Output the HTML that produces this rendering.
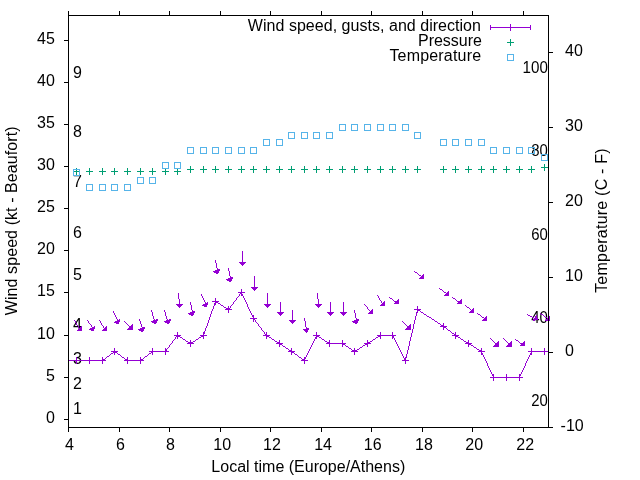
<!DOCTYPE html>
<html><head><meta charset="utf-8"><title>Wind</title>
<style>html,body{margin:0;padding:0;background:#fff;}body{width:640px;height:480px;overflow:hidden;}svg{display:block;will-change:transform;}text{font-family:"Liberation Sans",sans-serif;font-size:16px;fill:#000;white-space:pre;}</style>
</head><body>
<svg width="640" height="480" viewBox="0 0 640 480">
<rect x="0" y="0" width="640" height="480" fill="#ffffff"/>
<g>
<text x="54.8" y="423" text-anchor="end">0</text>
<text x="54.8" y="381" text-anchor="end">5</text>
<text x="54.8" y="339" text-anchor="end">10</text>
<text x="54.8" y="296" text-anchor="end">15</text>
<text x="54.8" y="254" text-anchor="end">20</text>
<text x="54.8" y="212" text-anchor="end">25</text>
<text x="54.8" y="170" text-anchor="end">30</text>
<text x="54.8" y="128" text-anchor="end">35</text>
<text x="54.8" y="86" text-anchor="end">40</text>
<text x="54.8" y="44" text-anchor="end">45</text>
<text x="560.6" y="431" xml:space="preserve">-10</text>
<text x="560.6" y="356" xml:space="preserve"> 0</text>
<text x="560.6" y="281" xml:space="preserve"> 10</text>
<text x="560.6" y="206" xml:space="preserve"> 20</text>
<text x="560.6" y="131" xml:space="preserve"> 30</text>
<text x="560.6" y="56" xml:space="preserve"> 40</text>
<text x="67.30" y="450" text-anchor="middle" xml:space="preserve"> 4</text>
<text x="118.33" y="450" text-anchor="middle" xml:space="preserve"> 6</text>
<text x="168.35" y="450" text-anchor="middle" xml:space="preserve"> 8</text>
<text x="219.98" y="450" text-anchor="middle" xml:space="preserve"> 10</text>
<text x="269.71" y="450" text-anchor="middle" xml:space="preserve"> 12</text>
<text x="320.83" y="450" text-anchor="middle" xml:space="preserve"> 14</text>
<text x="370.46" y="450" text-anchor="middle" xml:space="preserve"> 16</text>
<text x="421.68" y="450" text-anchor="middle" xml:space="preserve"> 18</text>
<text x="472.01" y="450" text-anchor="middle" xml:space="preserve"> 20</text>
<text x="522.94" y="450" text-anchor="middle" xml:space="preserve"> 22</text>
</g>
<text transform="translate(17.3,315.2) rotate(-90)" textLength="188.75" lengthAdjust="spacing">Wind speed (kt - Beaufort)</text>
<text transform="translate(606.5,292.85) rotate(-90)" textLength="144.5" lengthAdjust="spacing">Temperature (C - F)</text>
<text x="211.36" y="472">Local time (Europe/Athens)</text>
<text x="72.9" y="414">1</text>
<text x="72.9" y="389">2</text>
<text x="72.9" y="364">3</text>
<text x="72.9" y="330">4</text>
<text x="72.9" y="280">5</text>
<text x="72.9" y="238">6</text>
<text x="72.9" y="187">7</text>
<text x="72.9" y="137">8</text>
<text x="72.9" y="78">9</text>
<text x="531.30" y="406" textLength="16.6" lengthAdjust="spacingAndGlyphs">20</text>
<text x="531.30" y="323" textLength="16.6" lengthAdjust="spacingAndGlyphs">40</text>
<text x="531.30" y="240" textLength="16.6" lengthAdjust="spacingAndGlyphs">60</text>
<text x="531.30" y="156" textLength="16.6" lengthAdjust="spacingAndGlyphs">80</text>
<text x="522.60" y="73" textLength="25.3" lengthAdjust="spacingAndGlyphs">100</text>
<text x="247.86" y="31" textLength="233.1" lengthAdjust="spacing">Wind speed, gusts, and direction</text>
<text x="417.97" y="46">Pressure</text>
<text x="389.4" y="61" textLength="91.7" lengthAdjust="spacing">Temperature</text>
<g stroke="#9400d3" stroke-width="1" fill="none" shape-rendering="crispEdges">
<path d="M490 27.5H531M490.5 25V30M530.5 25V30M510.5 24V31"/>
</g>
<g stroke="#009e73" stroke-width="1" fill="none" shape-rendering="crispEdges">
<path d="M507 42.5H514M510.5 39V46"/>
</g>
<g stroke="#56b4e9" stroke-width="1" fill="none" shape-rendering="crispEdges">
<rect x="507.5" y="54.5" width="6" height="6"/>
</g>
<path fill="#9400d3" shape-rendering="crispEdges" d="M241 289h1v1h-1zM241 290h1v1h-1zM241 291h1v1h-1zM238 292h7v1h-7zM240 293h2v1h-2zM239 294h1v1h-1zM241 294h2v1h-2zM239 295h1v1h-1zM241 295h2v1h-2zM238 296h1v1h-1zM243 296h1v1h-1zM237 297h1v1h-1zM243 297h1v1h-1zM215 298h1v1h-1zM236 298h1v1h-1zM244 298h1v1h-1zM215 299h1v1h-1zM236 299h1v1h-1zM244 299h1v1h-1zM215 300h1v1h-1zM235 300h1v1h-1zM245 300h1v1h-1zM212 301h7v1h-7zM234 301h1v1h-1zM245 301h1v1h-1zM215 302h3v1h-3zM233 302h1v1h-1zM246 302h1v1h-1zM214 303h2v1h-2zM218 303h2v1h-2zM233 303h1v1h-1zM246 303h1v1h-1zM214 304h2v1h-2zM220 304h1v1h-1zM232 304h1v1h-1zM247 304h1v1h-1zM214 305h1v1h-1zM221 305h2v1h-2zM231 305h1v1h-1zM247 305h1v1h-1zM213 306h1v1h-1zM223 306h1v1h-1zM228 306h1v1h-1zM230 306h1v1h-1zM247 306h1v1h-1zM417 306h1v1h-1zM213 307h1v1h-1zM224 307h2v1h-2zM228 307h1v1h-1zM230 307h1v1h-1zM248 307h1v1h-1zM417 307h1v1h-1zM213 308h1v1h-1zM226 308h4v1h-4zM248 308h1v1h-1zM417 308h1v1h-1zM212 309h1v1h-1zM225 309h7v1h-7zM249 309h1v1h-1zM414 309h7v1h-7zM212 310h1v1h-1zM228 310h1v1h-1zM249 310h1v1h-1zM417 310h3v1h-3zM211 311h1v1h-1zM228 311h1v1h-1zM250 311h1v1h-1zM417 311h1v1h-1zM420 311h1v1h-1zM211 312h1v1h-1zM228 312h1v1h-1zM250 312h1v1h-1zM416 312h2v1h-2zM421 312h2v1h-2zM211 313h1v1h-1zM251 313h1v1h-1zM416 313h1v1h-1zM423 313h1v1h-1zM210 314h1v1h-1zM251 314h1v1h-1zM416 314h1v1h-1zM424 314h2v1h-2zM210 315h1v1h-1zM252 315h2v1h-2zM416 315h1v1h-1zM426 315h1v1h-1zM210 316h1v1h-1zM252 316h2v1h-2zM415 316h1v1h-1zM427 316h2v1h-2zM209 317h1v1h-1zM253 317h1v1h-1zM415 317h1v1h-1zM429 317h2v1h-2zM209 318h1v1h-1zM250 318h7v1h-7zM415 318h1v1h-1zM431 318h1v1h-1zM209 319h1v1h-1zM253 319h2v1h-2zM415 319h1v1h-1zM432 319h2v1h-2zM208 320h1v1h-1zM253 320h1v1h-1zM255 320h1v1h-1zM414 320h1v1h-1zM434 320h1v1h-1zM208 321h1v1h-1zM253 321h1v1h-1zM255 321h1v1h-1zM414 321h1v1h-1zM435 321h2v1h-2zM208 322h1v1h-1zM256 322h1v1h-1zM414 322h1v1h-1zM437 322h1v1h-1zM207 323h1v1h-1zM257 323h1v1h-1zM414 323h1v1h-1zM438 323h2v1h-2zM443 323h1v1h-1zM207 324h1v1h-1zM258 324h1v1h-1zM413 324h1v1h-1zM440 324h1v1h-1zM443 324h1v1h-1zM207 325h1v1h-1zM258 325h1v1h-1zM413 325h1v1h-1zM441 325h3v1h-3zM206 326h1v1h-1zM259 326h1v1h-1zM413 326h1v1h-1zM440 326h7v1h-7zM206 327h1v1h-1zM260 327h1v1h-1zM413 327h1v1h-1zM443 327h3v1h-3zM205 328h1v1h-1zM261 328h1v1h-1zM413 328h1v1h-1zM443 328h1v1h-1zM446 328h1v1h-1zM205 329h1v1h-1zM261 329h1v1h-1zM412 329h1v1h-1zM443 329h1v1h-1zM447 329h1v1h-1zM205 330h1v1h-1zM262 330h1v1h-1zM412 330h1v1h-1zM448 330h2v1h-2zM204 331h1v1h-1zM263 331h1v1h-1zM412 331h1v1h-1zM450 331h1v1h-1zM177 332h1v1h-1zM203 332h2v1h-2zM264 332h1v1h-1zM266 332h1v1h-1zM316 332h1v1h-1zM380 332h1v1h-1zM392 332h1v1h-1zM412 332h1v1h-1zM451 332h1v1h-1zM455 332h1v1h-1zM177 333h1v1h-1zM203 333h2v1h-2zM264 333h1v1h-1zM266 333h1v1h-1zM316 333h1v1h-1zM380 333h1v1h-1zM392 333h1v1h-1zM411 333h1v1h-1zM452 333h2v1h-2zM455 333h1v1h-1zM177 334h1v1h-1zM203 334h1v1h-1zM265 334h2v1h-2zM316 334h1v1h-1zM380 334h1v1h-1zM392 334h1v1h-1zM411 334h1v1h-1zM454 334h2v1h-2zM174 335h7v1h-7zM200 335h7v1h-7zM263 335h7v1h-7zM313 335h7v1h-7zM377 335h19v1h-19zM411 335h1v1h-1zM452 335h7v1h-7zM176 336h4v1h-4zM201 336h3v1h-3zM266 336h3v1h-3zM316 336h3v1h-3zM378 336h3v1h-3zM392 336h2v1h-2zM411 336h1v1h-1zM455 336h3v1h-3zM175 337h1v1h-1zM177 337h1v1h-1zM180 337h2v1h-2zM199 337h2v1h-2zM203 337h1v1h-1zM266 337h1v1h-1zM269 337h2v1h-2zM315 337h2v1h-2zM319 337h2v1h-2zM376 337h2v1h-2zM380 337h1v1h-1zM392 337h2v1h-2zM410 337h1v1h-1zM455 337h1v1h-1zM458 337h2v1h-2zM175 338h1v1h-1zM177 338h1v1h-1zM182 338h1v1h-1zM198 338h1v1h-1zM203 338h1v1h-1zM266 338h1v1h-1zM271 338h1v1h-1zM315 338h2v1h-2zM321 338h1v1h-1zM375 338h1v1h-1zM380 338h1v1h-1zM392 338h1v1h-1zM394 338h1v1h-1zM410 338h1v1h-1zM455 338h1v1h-1zM460 338h1v1h-1zM174 339h1v1h-1zM183 339h2v1h-2zM196 339h2v1h-2zM272 339h2v1h-2zM314 339h1v1h-1zM322 339h2v1h-2zM373 339h2v1h-2zM394 339h1v1h-1zM410 339h1v1h-1zM461 339h2v1h-2zM173 340h1v1h-1zM185 340h1v1h-1zM190 340h1v1h-1zM195 340h1v1h-1zM274 340h1v1h-1zM279 340h1v1h-1zM314 340h1v1h-1zM324 340h1v1h-1zM329 340h1v1h-1zM342 340h1v1h-1zM367 340h1v1h-1zM372 340h1v1h-1zM395 340h1v1h-1zM410 340h1v1h-1zM463 340h1v1h-1zM468 340h1v1h-1zM172 341h1v1h-1zM186 341h2v1h-2zM190 341h1v1h-1zM193 341h2v1h-2zM275 341h2v1h-2zM279 341h1v1h-1zM313 341h1v1h-1zM325 341h2v1h-2zM329 341h1v1h-1zM342 341h1v1h-1zM367 341h1v1h-1zM370 341h2v1h-2zM395 341h1v1h-1zM409 341h1v1h-1zM464 341h2v1h-2zM468 341h1v1h-1zM172 342h1v1h-1zM188 342h5v1h-5zM277 342h3v1h-3zM313 342h1v1h-1zM327 342h3v1h-3zM342 342h1v1h-1zM367 342h3v1h-3zM396 342h1v1h-1zM409 342h1v1h-1zM466 342h3v1h-3zM171 343h1v1h-1zM187 343h7v1h-7zM276 343h7v1h-7zM312 343h1v1h-1zM326 343h20v1h-20zM364 343h7v1h-7zM396 343h1v1h-1zM409 343h1v1h-1zM465 343h7v1h-7zM170 344h1v1h-1zM190 344h1v1h-1zM279 344h3v1h-3zM312 344h1v1h-1zM329 344h1v1h-1zM342 344h3v1h-3zM365 344h3v1h-3zM397 344h1v1h-1zM409 344h1v1h-1zM468 344h3v1h-3zM169 345h1v1h-1zM190 345h1v1h-1zM279 345h1v1h-1zM282 345h1v1h-1zM311 345h1v1h-1zM329 345h1v1h-1zM342 345h1v1h-1zM345 345h1v1h-1zM363 345h2v1h-2zM367 345h1v1h-1zM397 345h1v1h-1zM409 345h1v1h-1zM468 345h1v1h-1zM471 345h2v1h-2zM169 346h1v1h-1zM190 346h1v1h-1zM279 346h1v1h-1zM283 346h2v1h-2zM311 346h1v1h-1zM329 346h1v1h-1zM342 346h1v1h-1zM346 346h2v1h-2zM362 346h1v1h-1zM367 346h1v1h-1zM398 346h1v1h-1zM408 346h1v1h-1zM468 346h1v1h-1zM473 346h1v1h-1zM168 347h1v1h-1zM285 347h1v1h-1zM310 347h1v1h-1zM348 347h1v1h-1zM360 347h2v1h-2zM398 347h1v1h-1zM408 347h1v1h-1zM474 347h2v1h-2zM114 348h1v1h-1zM152 348h1v1h-1zM165 348h1v1h-1zM167 348h1v1h-1zM286 348h2v1h-2zM291 348h1v1h-1zM310 348h1v1h-1zM349 348h2v1h-2zM354 348h1v1h-1zM359 348h1v1h-1zM399 348h1v1h-1zM408 348h1v1h-1zM476 348h1v1h-1zM481 348h1v1h-1zM531 348h1v1h-1zM544 348h1v1h-1zM114 349h1v1h-1zM152 349h1v1h-1zM165 349h2v1h-2zM288 349h1v1h-1zM291 349h1v1h-1zM309 349h1v1h-1zM351 349h1v1h-1zM354 349h1v1h-1zM357 349h2v1h-2zM399 349h1v1h-1zM408 349h1v1h-1zM477 349h2v1h-2zM481 349h1v1h-1zM531 349h1v1h-1zM544 349h1v1h-1zM114 350h1v1h-1zM152 350h1v1h-1zM165 350h2v1h-2zM289 350h3v1h-3zM309 350h1v1h-1zM352 350h5v1h-5zM400 350h1v1h-1zM407 350h1v1h-1zM479 350h3v1h-3zM531 350h1v1h-1zM544 350h1v1h-1zM111 351h7v1h-7zM149 351h20v1h-20zM288 351h7v1h-7zM308 351h1v1h-1zM351 351h7v1h-7zM400 351h1v1h-1zM407 351h1v1h-1zM478 351h7v1h-7zM528 351h21v1h-21zM113 352h4v1h-4zM151 352h2v1h-2zM165 352h1v1h-1zM291 352h3v1h-3zM308 352h1v1h-1zM354 352h1v1h-1zM401 352h1v1h-1zM407 352h1v1h-1zM481 352h1v1h-1zM531 352h1v1h-1zM544 352h1v1h-1zM111 353h2v1h-2zM114 353h1v1h-1zM117 353h1v1h-1zM149 353h2v1h-2zM152 353h1v1h-1zM165 353h1v1h-1zM291 353h1v1h-1zM294 353h1v1h-1zM307 353h1v1h-1zM354 353h1v1h-1zM401 353h1v1h-1zM407 353h1v1h-1zM481 353h2v1h-2zM530 353h2v1h-2zM544 353h1v1h-1zM110 354h1v1h-1zM114 354h1v1h-1zM118 354h2v1h-2zM148 354h1v1h-1zM152 354h1v1h-1zM165 354h1v1h-1zM291 354h1v1h-1zM295 354h2v1h-2zM307 354h1v1h-1zM354 354h1v1h-1zM402 354h1v1h-1zM406 354h1v1h-1zM481 354h2v1h-2zM530 354h2v1h-2zM544 354h1v1h-1zM109 355h1v1h-1zM120 355h1v1h-1zM147 355h1v1h-1zM297 355h1v1h-1zM306 355h1v1h-1zM402 355h1v1h-1zM406 355h1v1h-1zM483 355h1v1h-1zM529 355h1v1h-1zM107 356h2v1h-2zM121 356h1v1h-1zM145 356h2v1h-2zM298 356h1v1h-1zM306 356h1v1h-1zM403 356h1v1h-1zM406 356h1v1h-1zM483 356h1v1h-1zM529 356h1v1h-1zM76 357h1v1h-1zM89 357h1v1h-1zM102 357h1v1h-1zM106 357h1v1h-1zM122 357h2v1h-2zM127 357h1v1h-1zM140 357h1v1h-1zM144 357h1v1h-1zM299 357h2v1h-2zM304 357h2v1h-2zM403 357h1v1h-1zM405 357h2v1h-2zM484 357h1v1h-1zM528 357h1v1h-1zM76 358h1v1h-1zM89 358h1v1h-1zM102 358h1v1h-1zM105 358h1v1h-1zM124 358h1v1h-1zM127 358h1v1h-1zM140 358h1v1h-1zM143 358h1v1h-1zM301 358h1v1h-1zM304 358h2v1h-2zM404 358h2v1h-2zM484 358h1v1h-1zM528 358h1v1h-1zM76 359h1v1h-1zM89 359h1v1h-1zM102 359h3v1h-3zM125 359h3v1h-3zM140 359h3v1h-3zM302 359h3v1h-3zM404 359h2v1h-2zM485 359h1v1h-1zM527 359h1v1h-1zM68 360h38v1h-38zM124 360h20v1h-20zM301 360h7v1h-7zM402 360h7v1h-7zM485 360h1v1h-1zM527 360h1v1h-1zM76 361h1v1h-1zM89 361h1v1h-1zM102 361h1v1h-1zM127 361h1v1h-1zM140 361h1v1h-1zM304 361h1v1h-1zM405 361h1v1h-1zM486 361h1v1h-1zM526 361h1v1h-1zM76 362h1v1h-1zM89 362h1v1h-1zM102 362h1v1h-1zM127 362h1v1h-1zM140 362h1v1h-1zM304 362h1v1h-1zM405 362h1v1h-1zM486 362h1v1h-1zM526 362h1v1h-1zM76 363h1v1h-1zM89 363h1v1h-1zM102 363h1v1h-1zM127 363h1v1h-1zM140 363h1v1h-1zM304 363h1v1h-1zM405 363h1v1h-1zM487 363h1v1h-1zM525 363h1v1h-1zM487 364h1v1h-1zM525 364h1v1h-1zM487 365h1v1h-1zM525 365h1v1h-1zM488 366h1v1h-1zM524 366h1v1h-1zM488 367h1v1h-1zM524 367h1v1h-1zM489 368h1v1h-1zM523 368h1v1h-1zM489 369h1v1h-1zM523 369h1v1h-1zM490 370h1v1h-1zM522 370h1v1h-1zM490 371h1v1h-1zM522 371h1v1h-1zM491 372h1v1h-1zM521 372h1v1h-1zM491 373h1v1h-1zM521 373h1v1h-1zM492 374h2v1h-2zM506 374h1v1h-1zM519 374h2v1h-2zM492 375h2v1h-2zM506 375h1v1h-1zM519 375h2v1h-2zM493 376h1v1h-1zM506 376h1v1h-1zM519 376h1v1h-1zM490 377h33v1h-33zM493 378h1v1h-1zM506 378h1v1h-1zM519 378h1v1h-1zM493 379h1v1h-1zM506 379h1v1h-1zM519 379h1v1h-1zM493 380h1v1h-1zM506 380h1v1h-1zM519 380h1v1h-1z"/>
<path fill="#9400d3" shape-rendering="crispEdges" d="M242 251h1v1h-1zM242 252h1v1h-1zM242 253h1v1h-1zM242 254h1v1h-1zM242 255h1v1h-1zM242 256h1v1h-1zM242 257h1v1h-1zM242 258h1v1h-1zM242 259h1v1h-1zM215 260h1v1h-1zM242 260h1v1h-1zM215 261h1v1h-1zM242 261h1v1h-1zM215 262h1v1h-1zM239 262h7v1h-7zM216 263h1v1h-1zM240 263h5v1h-5zM216 264h1v1h-1zM241 264h3v1h-3zM216 265h1v1h-1zM242 265h1v1h-1zM216 266h1v1h-1zM216 267h1v1h-1zM217 268h1v1h-1zM228 268h1v1h-1zM217 269h3v1h-3zM228 269h1v1h-1zM215 270h5v1h-5zM228 270h1v1h-1zM213 271h6v1h-6zM229 271h1v1h-1zM414 271h1v1h-1zM214 272h5v1h-5zM229 272h1v1h-1zM415 272h2v1h-2zM216 273h2v1h-2zM229 273h1v1h-1zM417 273h1v1h-1zM229 274h1v1h-1zM418 274h1v1h-1zM423 274h1v1h-1zM229 275h1v1h-1zM419 275h2v1h-2zM422 275h2v1h-2zM230 276h1v1h-1zM254 276h1v1h-1zM421 276h3v1h-3zM230 277h3v1h-3zM254 277h1v1h-1zM420 277h4v1h-4zM228 278h5v1h-5zM254 278h1v1h-1zM419 278h5v1h-5zM226 279h6v1h-6zM254 279h1v1h-1zM227 280h5v1h-5zM254 280h1v1h-1zM229 281h2v1h-2zM254 281h1v1h-1zM254 282h1v1h-1zM254 283h1v1h-1zM254 284h1v1h-1zM254 285h1v1h-1zM254 286h1v1h-1zM251 287h7v1h-7zM252 288h5v1h-5zM439 288h1v1h-1zM253 289h3v1h-3zM440 289h2v1h-2zM254 290h1v1h-1zM442 290h1v1h-1zM443 291h1v1h-1zM448 291h1v1h-1zM444 292h2v1h-2zM447 292h2v1h-2zM178 293h1v1h-1zM267 293h1v1h-1zM317 293h1v1h-1zM446 293h3v1h-3zM178 294h1v1h-1zM201 294h1v1h-1zM267 294h1v1h-1zM317 294h1v1h-1zM445 294h4v1h-4zM178 295h1v1h-1zM201 295h1v1h-1zM267 295h1v1h-1zM317 295h1v1h-1zM377 295h1v1h-1zM444 295h5v1h-5zM178 296h1v1h-1zM202 296h1v1h-1zM267 296h1v1h-1zM317 296h1v1h-1zM378 296h1v1h-1zM178 297h1v1h-1zM202 297h1v1h-1zM267 297h1v1h-1zM317 297h1v1h-1zM378 297h1v1h-1zM389 297h1v1h-1zM452 297h1v1h-1zM178 298h1v1h-1zM203 298h1v1h-1zM267 298h1v1h-1zM317 298h1v1h-1zM379 298h1v1h-1zM390 298h2v1h-2zM453 298h2v1h-2zM179 299h1v1h-1zM203 299h1v1h-1zM267 299h1v1h-1zM318 299h1v1h-1zM379 299h1v1h-1zM392 299h1v1h-1zM398 299h1v1h-1zM455 299h1v1h-1zM461 299h1v1h-1zM179 300h1v1h-1zM204 300h1v1h-1zM267 300h1v1h-1zM318 300h1v1h-1zM380 300h1v1h-1zM393 300h1v1h-1zM397 300h2v1h-2zM456 300h1v1h-1zM460 300h2v1h-2zM179 301h1v1h-1zM204 301h1v1h-1zM267 301h1v1h-1zM318 301h1v1h-1zM381 301h1v1h-1zM384 301h1v1h-1zM394 301h5v1h-5zM457 301h5v1h-5zM179 302h1v1h-1zM190 302h1v1h-1zM205 302h1v1h-1zM207 302h1v1h-1zM267 302h1v1h-1zM280 302h1v1h-1zM318 302h1v1h-1zM330 302h1v1h-1zM343 302h1v1h-1zM381 302h1v1h-1zM383 302h2v1h-2zM395 302h4v1h-4zM458 302h4v1h-4zM179 303h1v1h-1zM190 303h1v1h-1zM205 303h3v1h-3zM267 303h1v1h-1zM280 303h1v1h-1zM318 303h1v1h-1zM330 303h1v1h-1zM343 303h1v1h-1zM382 303h3v1h-3zM394 303h5v1h-5zM457 303h5v1h-5zM176 304h7v1h-7zM190 304h1v1h-1zM203 304h5v1h-5zM264 304h7v1h-7zM280 304h1v1h-1zM315 304h7v1h-7zM330 304h1v1h-1zM343 304h1v1h-1zM364 304h1v1h-1zM381 304h4v1h-4zM177 305h5v1h-5zM191 305h1v1h-1zM202 305h5v1h-5zM265 305h5v1h-5zM280 305h1v1h-1zM316 305h5v1h-5zM330 305h1v1h-1zM343 305h1v1h-1zM365 305h1v1h-1zM380 305h5v1h-5zM465 305h1v1h-1zM178 306h3v1h-3zM191 306h1v1h-1zM204 306h3v1h-3zM266 306h3v1h-3zM280 306h1v1h-1zM317 306h3v1h-3zM330 306h1v1h-1zM343 306h1v1h-1zM366 306h1v1h-1zM466 306h1v1h-1zM179 307h1v1h-1zM191 307h1v1h-1zM267 307h1v1h-1zM280 307h1v1h-1zM318 307h1v1h-1zM330 307h1v1h-1zM343 307h1v1h-1zM367 307h1v1h-1zM467 307h2v1h-2zM191 308h1v1h-1zM280 308h1v1h-1zM330 308h1v1h-1zM343 308h1v1h-1zM367 308h1v1h-1zM469 308h1v1h-1zM473 308h1v1h-1zM191 309h1v1h-1zM280 309h1v1h-1zM330 309h1v1h-1zM343 309h1v1h-1zM368 309h1v1h-1zM372 309h1v1h-1zM470 309h1v1h-1zM472 309h2v1h-2zM151 310h1v1h-1zM164 310h1v1h-1zM192 310h1v1h-1zM280 310h1v1h-1zM292 310h1v1h-1zM330 310h1v1h-1zM343 310h1v1h-1zM354 310h1v1h-1zM369 310h1v1h-1zM371 310h2v1h-2zM471 310h3v1h-3zM113 311h1v1h-1zM151 311h1v1h-1zM164 311h1v1h-1zM192 311h3v1h-3zM280 311h1v1h-1zM292 311h1v1h-1zM330 311h1v1h-1zM343 311h1v1h-1zM354 311h1v1h-1zM370 311h3v1h-3zM470 311h4v1h-4zM113 312h1v1h-1zM152 312h1v1h-1zM165 312h1v1h-1zM190 312h5v1h-5zM277 312h7v1h-7zM292 312h1v1h-1zM327 312h7v1h-7zM340 312h7v1h-7zM354 312h1v1h-1zM369 312h4v1h-4zM469 312h5v1h-5zM114 313h1v1h-1zM152 313h1v1h-1zM165 313h1v1h-1zM188 313h6v1h-6zM278 313h5v1h-5zM292 313h1v1h-1zM328 313h5v1h-5zM341 313h5v1h-5zM355 313h1v1h-1zM368 313h5v1h-5zM477 313h1v1h-1zM540 313h1v1h-1zM114 314h1v1h-1zM152 314h1v1h-1zM165 314h1v1h-1zM189 314h5v1h-5zM279 314h3v1h-3zM292 314h1v1h-1zM329 314h3v1h-3zM342 314h3v1h-3zM355 314h1v1h-1zM478 314h2v1h-2zM527 314h1v1h-1zM541 314h2v1h-2zM115 315h1v1h-1zM152 315h1v1h-1zM165 315h1v1h-1zM191 315h2v1h-2zM280 315h1v1h-1zM292 315h1v1h-1zM330 315h1v1h-1zM343 315h1v1h-1zM355 315h1v1h-1zM480 315h1v1h-1zM528 315h2v1h-2zM536 315h1v1h-1zM543 315h1v1h-1zM115 316h1v1h-1zM153 316h1v1h-1zM166 316h1v1h-1zM292 316h1v1h-1zM355 316h1v1h-1zM481 316h1v1h-1zM486 316h1v1h-1zM530 316h2v1h-2zM535 316h2v1h-2zM544 316h1v1h-1zM549 316h1v1h-1zM116 317h1v1h-1zM153 317h1v1h-1zM166 317h1v1h-1zM292 317h1v1h-1zM355 317h1v1h-1zM482 317h2v1h-2zM485 317h2v1h-2zM532 317h2v1h-2zM535 317h2v1h-2zM545 317h2v1h-2zM548 317h2v1h-2zM116 318h1v1h-1zM153 318h1v1h-1zM166 318h1v1h-1zM292 318h1v1h-1zM304 318h1v1h-1zM356 318h1v1h-1zM484 318h3v1h-3zM534 318h4v1h-4zM547 318h3v1h-3zM117 319h1v1h-1zM119 319h1v1h-1zM139 319h1v1h-1zM154 319h1v1h-1zM156 319h2v1h-2zM167 319h1v1h-1zM169 319h2v1h-2zM292 319h1v1h-1zM304 319h1v1h-1zM356 319h3v1h-3zM483 319h4v1h-4zM533 319h5v1h-5zM546 319h4v1h-4zM74 320h1v1h-1zM87 320h1v1h-1zM99 320h1v1h-1zM117 320h3v1h-3zM139 320h1v1h-1zM153 320h5v1h-5zM166 320h5v1h-5zM289 320h7v1h-7zM304 320h1v1h-1zM354 320h5v1h-5zM482 320h5v1h-5zM533 320h2v1h-2zM545 320h5v1h-5zM75 321h1v1h-1zM88 321h1v1h-1zM100 321h1v1h-1zM115 321h5v1h-5zM124 321h1v1h-1zM140 321h1v1h-1zM151 321h6v1h-6zM164 321h6v1h-6zM290 321h5v1h-5zM305 321h1v1h-1zM352 321h6v1h-6zM402 321h1v1h-1zM75 322h1v1h-1zM88 322h1v1h-1zM100 322h1v1h-1zM114 322h5v1h-5zM125 322h1v1h-1zM140 322h1v1h-1zM152 322h5v1h-5zM165 322h5v1h-5zM291 322h3v1h-3zM305 322h1v1h-1zM353 322h5v1h-5zM403 322h1v1h-1zM76 323h1v1h-1zM89 323h1v1h-1zM101 323h1v1h-1zM116 323h3v1h-3zM126 323h1v1h-1zM140 323h1v1h-1zM154 323h2v1h-2zM167 323h2v1h-2zM292 323h1v1h-1zM305 323h1v1h-1zM355 323h2v1h-2zM404 323h1v1h-1zM76 324h1v1h-1zM90 324h1v1h-1zM101 324h1v1h-1zM127 324h1v1h-1zM132 324h1v1h-1zM141 324h1v1h-1zM305 324h1v1h-1zM405 324h1v1h-1zM410 324h1v1h-1zM77 325h1v1h-1zM91 325h1v1h-1zM102 325h1v1h-1zM128 325h1v1h-1zM131 325h2v1h-2zM141 325h1v1h-1zM305 325h1v1h-1zM406 325h1v1h-1zM409 325h2v1h-2zM78 326h1v1h-1zM81 326h1v1h-1zM91 326h1v1h-1zM94 326h1v1h-1zM103 326h1v1h-1zM106 326h1v1h-1zM129 326h4v1h-4zM141 326h1v1h-1zM305 326h1v1h-1zM407 326h4v1h-4zM78 327h1v1h-1zM80 327h2v1h-2zM92 327h3v1h-3zM103 327h1v1h-1zM105 327h2v1h-2zM129 327h4v1h-4zM142 327h3v1h-3zM306 327h1v1h-1zM407 327h4v1h-4zM79 328h3v1h-3zM90 328h5v1h-5zM104 328h3v1h-3zM128 328h5v1h-5zM140 328h5v1h-5zM306 328h3v1h-3zM406 328h5v1h-5zM78 329h4v1h-4zM89 329h5v1h-5zM103 329h4v1h-4zM127 329h6v1h-6zM138 329h6v1h-6zM303 329h6v1h-6zM405 329h6v1h-6zM77 330h5v1h-5zM91 330h3v1h-3zM102 330h5v1h-5zM139 330h5v1h-5zM304 330h4v1h-4zM141 331h2v1h-2zM305 331h3v1h-3zM306 332h1v1h-1zM490 338h1v1h-1zM503 338h1v1h-1zM491 339h1v1h-1zM504 339h1v1h-1zM515 339h1v1h-1zM492 340h1v1h-1zM505 340h1v1h-1zM516 340h2v1h-2zM493 341h1v1h-1zM498 341h1v1h-1zM506 341h1v1h-1zM511 341h1v1h-1zM518 341h1v1h-1zM524 341h1v1h-1zM494 342h1v1h-1zM497 342h2v1h-2zM507 342h1v1h-1zM510 342h2v1h-2zM519 342h1v1h-1zM523 342h2v1h-2zM495 343h4v1h-4zM508 343h4v1h-4zM520 343h5v1h-5zM495 344h4v1h-4zM508 344h4v1h-4zM521 344h4v1h-4zM494 345h5v1h-5zM507 345h5v1h-5zM520 345h5v1h-5zM493 346h6v1h-6zM506 346h6v1h-6z"/>
<g stroke="#009e73" stroke-width="1" fill="none" shape-rendering="crispEdges">
<path d="M73.0 171.5H80.0M76.5 168.0V175.0M86.0 171.5H93.0M89.5 168.0V175.0M99.0 171.5H106.0M102.5 168.0V175.0M111.0 171.5H118.0M114.5 168.0V175.0M124.0 171.5H131.0M127.5 168.0V175.0M137.0 171.5H144.0M140.5 168.0V175.0M149.0 171.5H156.0M152.5 168.0V175.0M162.0 171.5H169.0M165.5 168.0V175.0M174.0 171.5H181.0M177.5 168.0V175.0M187.0 169.5H194.0M190.5 166.0V173.0M200.0 169.5H207.0M203.5 166.0V173.0M212.0 169.5H219.0M215.5 166.0V173.0M225.0 169.5H232.0M228.5 166.0V173.0M238.0 169.5H245.0M241.5 166.0V173.0M250.0 169.5H257.0M253.5 166.0V173.0M263.0 169.5H270.0M266.5 166.0V173.0M276.0 169.5H283.0M279.5 166.0V173.0M288.0 169.5H295.0M291.5 166.0V173.0M301.0 169.5H308.0M304.5 166.0V173.0M313.0 169.5H320.0M316.5 166.0V173.0M326.0 169.5H333.0M329.5 166.0V173.0M339.0 169.5H346.0M342.5 166.0V173.0M351.0 169.5H358.0M354.5 166.0V173.0M364.0 169.5H371.0M367.5 166.0V173.0M377.0 169.5H384.0M380.5 166.0V173.0M389.0 169.5H396.0M392.5 166.0V173.0M402.0 169.5H409.0M405.5 166.0V173.0M414.0 169.5H421.0M417.5 166.0V173.0M440.0 169.5H447.0M443.5 166.0V173.0M452.0 169.5H459.0M455.5 166.0V173.0M465.0 169.5H472.0M468.5 166.0V173.0M478.0 169.5H485.0M481.5 166.0V173.0M490.0 169.5H497.0M493.5 166.0V173.0M503.0 169.5H510.0M506.5 166.0V173.0M516.0 169.5H523.0M519.5 166.0V173.0M528.0 169.5H535.0M531.5 166.0V173.0M541.0 167.5H548.0M544.5 164.0V171.0"/>
</g>
<g stroke="#56b4e9" stroke-width="1" fill="none" shape-rendering="crispEdges">
<rect x="73.5" y="169.5" width="6" height="6"/>
<rect x="86.5" y="184.5" width="6" height="6"/>
<rect x="99.5" y="184.5" width="6" height="6"/>
<rect x="111.5" y="184.5" width="6" height="6"/>
<rect x="124.5" y="184.5" width="6" height="6"/>
<rect x="137.5" y="177.5" width="6" height="6"/>
<rect x="149.5" y="177.5" width="6" height="6"/>
<rect x="162.5" y="162.5" width="6" height="6"/>
<rect x="174.5" y="162.5" width="6" height="6"/>
<rect x="187.5" y="147.5" width="6" height="6"/>
<rect x="200.5" y="147.5" width="6" height="6"/>
<rect x="212.5" y="147.5" width="6" height="6"/>
<rect x="225.5" y="147.5" width="6" height="6"/>
<rect x="238.5" y="147.5" width="6" height="6"/>
<rect x="250.5" y="147.5" width="6" height="6"/>
<rect x="263.5" y="139.5" width="6" height="6"/>
<rect x="276.5" y="139.5" width="6" height="6"/>
<rect x="288.5" y="132.5" width="6" height="6"/>
<rect x="301.5" y="132.5" width="6" height="6"/>
<rect x="313.5" y="132.5" width="6" height="6"/>
<rect x="326.5" y="132.5" width="6" height="6"/>
<rect x="339.5" y="124.5" width="6" height="6"/>
<rect x="351.5" y="124.5" width="6" height="6"/>
<rect x="364.5" y="124.5" width="6" height="6"/>
<rect x="377.5" y="124.5" width="6" height="6"/>
<rect x="389.5" y="124.5" width="6" height="6"/>
<rect x="402.5" y="124.5" width="6" height="6"/>
<rect x="414.5" y="132.5" width="6" height="6"/>
<rect x="440.5" y="139.5" width="6" height="6"/>
<rect x="452.5" y="139.5" width="6" height="6"/>
<rect x="465.5" y="139.5" width="6" height="6"/>
<rect x="478.5" y="139.5" width="6" height="6"/>
<rect x="490.5" y="147.5" width="6" height="6"/>
<rect x="503.5" y="147.5" width="6" height="6"/>
<rect x="516.5" y="147.5" width="6" height="6"/>
<rect x="528.5" y="147.5" width="6" height="6"/>
<rect x="541.5" y="154.5" width="6" height="6"/>
</g>
<g stroke="#000" stroke-width="1" fill="none" shape-rendering="crispEdges">
<line x1="64.00" y1="419.09" x2="68.50" y2="419.09"/>
<line x1="64.00" y1="377.05" x2="68.50" y2="377.05"/>
<line x1="64.00" y1="335.01" x2="68.50" y2="335.01"/>
<line x1="64.00" y1="292.97" x2="68.50" y2="292.97"/>
<line x1="64.00" y1="250.93" x2="68.50" y2="250.93"/>
<line x1="64.00" y1="208.89" x2="68.50" y2="208.89"/>
<line x1="64.00" y1="166.85" x2="68.50" y2="166.85"/>
<line x1="64.00" y1="124.81" x2="68.50" y2="124.81"/>
<line x1="64.00" y1="82.77" x2="68.50" y2="82.77"/>
<line x1="64.00" y1="40.72" x2="68.50" y2="40.72"/>
<line x1="548.50" y1="427.50" x2="553.00" y2="427.50"/>
<line x1="548.50" y1="352.59" x2="553.00" y2="352.59"/>
<line x1="548.50" y1="277.68" x2="553.00" y2="277.68"/>
<line x1="548.50" y1="202.77" x2="553.00" y2="202.77"/>
<line x1="548.50" y1="127.86" x2="553.00" y2="127.86"/>
<line x1="548.50" y1="52.95" x2="553.00" y2="52.95"/>
<line x1="68.50" y1="427.50" x2="68.50" y2="432.00"/>
<line x1="68.50" y1="15.50" x2="68.50" y2="11.00"/>
<line x1="119.03" y1="427.50" x2="119.03" y2="432.00"/>
<line x1="119.03" y1="15.50" x2="119.03" y2="11.00"/>
<line x1="169.55" y1="427.50" x2="169.55" y2="432.00"/>
<line x1="169.55" y1="15.50" x2="169.55" y2="11.00"/>
<line x1="220.08" y1="427.50" x2="220.08" y2="432.00"/>
<line x1="220.08" y1="15.50" x2="220.08" y2="11.00"/>
<line x1="270.61" y1="427.50" x2="270.61" y2="432.00"/>
<line x1="270.61" y1="15.50" x2="270.61" y2="11.00"/>
<line x1="321.13" y1="427.50" x2="321.13" y2="432.00"/>
<line x1="321.13" y1="15.50" x2="321.13" y2="11.00"/>
<line x1="371.66" y1="427.50" x2="371.66" y2="432.00"/>
<line x1="371.66" y1="15.50" x2="371.66" y2="11.00"/>
<line x1="422.18" y1="427.50" x2="422.18" y2="432.00"/>
<line x1="422.18" y1="15.50" x2="422.18" y2="11.00"/>
<line x1="472.71" y1="427.50" x2="472.71" y2="432.00"/>
<line x1="472.71" y1="15.50" x2="472.71" y2="11.00"/>
<line x1="523.24" y1="427.50" x2="523.24" y2="432.00"/>
<line x1="523.24" y1="15.50" x2="523.24" y2="11.00"/>
<rect x="68.5" y="15.5" width="480.0" height="412.0"/>
</g>
</svg></body></html>
